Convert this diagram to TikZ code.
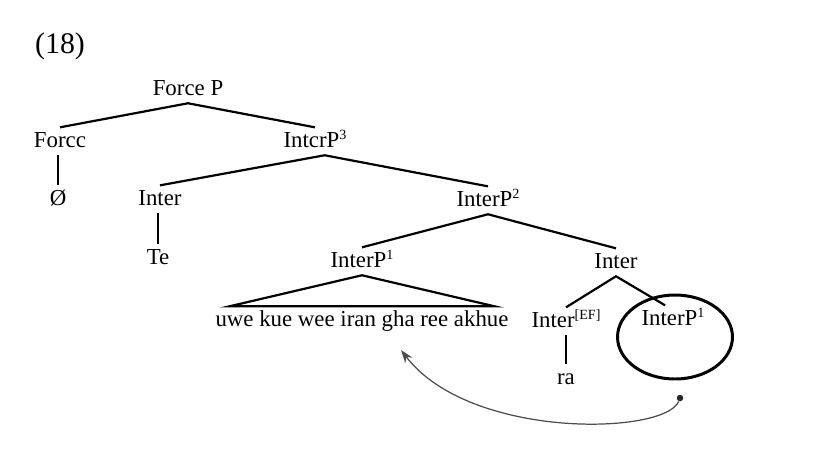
\documentclass[tikz,border=0pt]{standalone}
\usepackage{fontspec}
\setmainfont{Liberation Serif}
\usetikzlibrary{calc,arrows.meta,shapes.geometric,positioning}
\newcommand{\supidx}[1]{\raisebox{4pt}{\fontsize{8}{9}\selectfont #1}}
\tikzset{
    % category labels of the tree (placed on their baseline)
    cat/.style={
        font=\fontsize{13}{15}\selectfont, anchor=base,
        text height=9.5pt, text depth=3pt, inner sep=1.5pt
    },
    % branches of the tree
    branch/.style={line width=1.25pt, black},
    % movement arrow
    movearc/.style={-{Stealth[length=2.6mm,width=1.8mm]}, line width=0.7pt, black!70},
}

\begin{document}
\begin{tikzpicture}[x=0.02cm,y=-0.02cm,
   ring/.style={draw,ellipse,line width=1.7pt,minimum width=2.3cm,minimum height=1.68cm,inner sep=0pt},
   trace/.style={circle,fill=black!85,inner sep=0pt,minimum size=0.13cm}]
  \useasboundingbox (0,0) rectangle (827,451);
  \node[font=\fontsize{17}{20}\selectfont,anchor=base] (ex) at (60,53) {(18)};

  % labels, row by row
  \node[cat] (fp)    at (188,95)  {Force P};
  \node[cat] (frc)   at (60,147)  {Forcc};
  \node[cat] (ip3)   at (315,147) {IntcrP\supidx{3}};
  \node[cat] (null)  at (58,205)  {Ø};
  \node[cat] (int1)  at (160,205) {Inter};
  \node[cat] (ip2)   at (488,206) {InterP\supidx{2}};
  \node[cat] (te)    at (158,264) {Te};
  \node[cat] (ip1)   at (362,267) {InterP\supidx{1}};
  \node[cat] (int2)  at (616,268) {Inter};
  \node[cat] (words) at (362,326) {uwe kue wee iran gha ree akhue};
  \node[cat] (intef) at (566,327) {Inter\supidx{[EF]}};
  \node[cat] (ip1b)  at (673,325) {InterP\supidx{1}};
  \node[cat] (ra)    at (566,384) {ra};

  % branches
  \draw[branch] (frc.north) -- (fp.south) -- (ip3.north);
  \draw[branch] (null.north |- frc.south) -- (null.north);
  \draw[branch] (int1.north) -- ([xshift=5.5pt]ip3.south) -- (ip2.north);
  \draw[branch] (te.north |- int1.south) -- (te.north);
  \draw[branch] (ip1.north) -- (ip2.south) -- (int2.north);
  \draw[branch] ([xshift=9.6pt]words.north west) -- (ip1.south)
                -- ([xshift=-9.6pt]words.north east) -- cycle;
  \draw[branch] (intef.north) -- (int2.south) -- ([xshift=-4.5pt]ip1b.north);
  \draw[branch] (intef.south) -- (ra.north);

  % moved constituent and its trace
  \node[ring] (circ) at (675,337) {};
  \node[trace] (src) at (680,398) {};
  \coordinate (tgt) at (401,350);
  \draw[movearc] (src) .. controls (665,435) and (470,440) .. (tgt);
\end{tikzpicture}
\end{document}
